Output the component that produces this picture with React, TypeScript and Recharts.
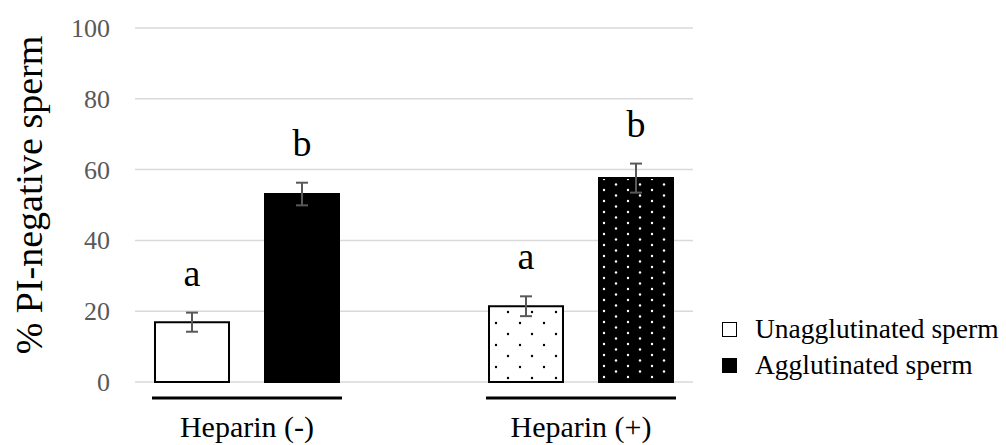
import React from "react";
import {
  BarChart,
  Bar,
  XAxis,
  YAxis,
  CartesianGrid,
  ErrorBar,
  Cell,
  LabelList,
  Legend,
  Label,
} from "recharts";

const categories = ["Heparin (-)", "Heparin (+)"];
const unagglutinated = [16.9, 21.4];
const unagglutinatedErr = [2.7, 2.8];
const agglutinated = [53.1, 57.6];
const agglutinatedErr = [3.2, 4.1];
const unaggLetters = ["a", "a"];
const aggLetters = ["b", "b"];
const seriesNames = ["Unagglutinated sperm", "Agglutinated sperm"];
const yTicks = [0, 20, 40, 60, 80, 100];

const data = categories.map((category, i) => ({
  category,
  unagg: unagglutinated[i],
  unaggErr: unagglutinatedErr[i],
  unaggLetter: unaggLetters[i],
  agg: agglutinated[i],
  aggErr: agglutinatedErr[i],
  aggLetter: aggLetters[i],
}));

const FONT = '"Liberation Serif", "Times New Roman", serif';
const unaggFills = ["#ffffff", "url(#dotsOnWhite)"];
const aggFills = ["#000000", "url(#dotsOnBlack)"];

const letterLabel = (valueKey: "unagg" | "agg", errKey: "unaggErr" | "aggErr") => (props: any) => {
  const { x, y, width, height, value, index } = props;
  const row = data[index];
  const errPx = (Math.abs(height) * row[errKey]) / row[valueKey];
  return (
    <text
      x={x + width / 2}
      y={y - errPx - 27}
      textAnchor="middle"
      fontSize={38}
      fontFamily={FONT}
      fill="#000"
    >
      {value}
    </text>
  );
};

const CategoryTick = (props: any) => {
  const { x, y, payload } = props;
  return (
    <g>
      <line x1={x - 95} x2={x + 95} y1={y + 16} y2={y + 16} stroke="#000" strokeWidth={3} />
      <text x={x} y={y + 55} textAnchor="middle" fontSize={30} fontFamily={FONT} fill="#000">
        {payload.value}
      </text>
    </g>
  );
};

const YTick = (props: any) => {
  const { x, y, payload } = props;
  return (
    <text x={x} y={y} dy={9} textAnchor="end" fontSize={26} fontFamily={FONT} fill="#595959">
      {payload.value}
    </text>
  );
};

const renderLegend = (props: any) => {
  const items = [...(props.payload || [])].sort(
    (a: any, b: any) => seriesNames.indexOf(a.value) - seriesNames.indexOf(b.value)
  );
  return (
    <div>
      {items.map((entry: any) => (
        <div key={entry.value} style={{ display: "flex", alignItems: "center", height: 36 }}>
          <span
            style={{
              width: 15,
              height: 15,
              boxSizing: "border-box",
              border: "1.5px solid #000",
              background: entry.color,
              display: "inline-block",
            }}
          />
          <span
            style={{
              marginLeft: 18,
              fontSize: 27.5,
              lineHeight: "36px",
              fontFamily: FONT,
              color: "#000",
            }}
          >
            {entry.value}
          </span>
        </div>
      ))}
    </div>
  );
};

export default function App() {
  return (
    <div style={{ position: "absolute", left: 0, top: 0, background: "#fff", fontFamily: FONT }}>
      <BarChart
        width={1006}
        height={445}
        data={data}
        margin={{ top: 28, right: 313, bottom: 0, left: 0 }}
        barSize={74}
        barGap={36}
      >
        <defs>
          <pattern id="dotsOnWhite" width={24} height={22} patternUnits="userSpaceOnUse">
            <rect width={24} height={22} fill="#fff" />
            <circle cx={4} cy={4} r={1.2} fill="#000" />
            <circle cx={16} cy={15} r={1.2} fill="#000" />
          </pattern>
          <pattern id="dotsOnBlack" width={24} height={11} patternUnits="userSpaceOnUse">
            <rect width={24} height={11} fill="#000" />
            <circle cx={4} cy={3} r={1.2} fill="#fff" />
            <circle cx={16} cy={8.5} r={1.2} fill="#fff" />
          </pattern>
        </defs>
        <CartesianGrid horizontal vertical={false} stroke="#d9d9d9" strokeWidth={1.5} />
        <XAxis
          dataKey="category"
          height={63}
          axisLine={false}
          tickLine={false}
          tickSize={0}
          tickMargin={0}
          interval={0}
          padding={{ left: -55, right: -55 }}
          tick={<CategoryTick />}
        />
        <YAxis
          width={135}
          domain={[0, 100]}
          ticks={yTicks}
          interval={0}
          axisLine={false}
          tickLine={false}
          tickSize={0}
          tickMargin={25}
          tick={<YTick />}
        >
          <Label
            content={(p: any) => {
              const vb = p.viewBox || { x: 0, y: 28, height: 354 };
              return (
                <text
                  transform={`translate(${vb.x + 42}, ${vb.y + vb.height / 2 - 10}) rotate(-90)`}
                  textAnchor="middle"
                  fontSize={38}
                  fontFamily={FONT}
                  fill="#000"
                >
                  % PI-negative sperm
                </text>
              );
            }}
          />
        </YAxis>
        <Legend
          layout="vertical"
          align="center"
          verticalAlign="middle"
          content={renderLegend}
          wrapperStyle={{ left: 722, top: 311, width: 290, height: 72 }}
        />
        <Bar dataKey="unagg" name={seriesNames[0]} fill="#ffffff" isAnimationActive={false}>
          {data.map((_, i) => (
            <Cell key={i} fill={unaggFills[i]} stroke="#000" strokeWidth={2} />
          ))}
          <ErrorBar dataKey="unaggErr" width={6} stroke="#595959" strokeWidth={2} />
          <LabelList dataKey="unaggLetter" content={letterLabel("unagg", "unaggErr")} />
        </Bar>
        <Bar dataKey="agg" name={seriesNames[1]} fill="#000000" isAnimationActive={false}>
          {data.map((_, i) => (
            <Cell key={i} fill={aggFills[i]} stroke="#000" strokeWidth={2} />
          ))}
          <ErrorBar dataKey="aggErr" width={6} stroke="#595959" strokeWidth={2} />
          <LabelList dataKey="aggLetter" content={letterLabel("agg", "aggErr")} />
        </Bar>
      </BarChart>
    </div>
  );
}
